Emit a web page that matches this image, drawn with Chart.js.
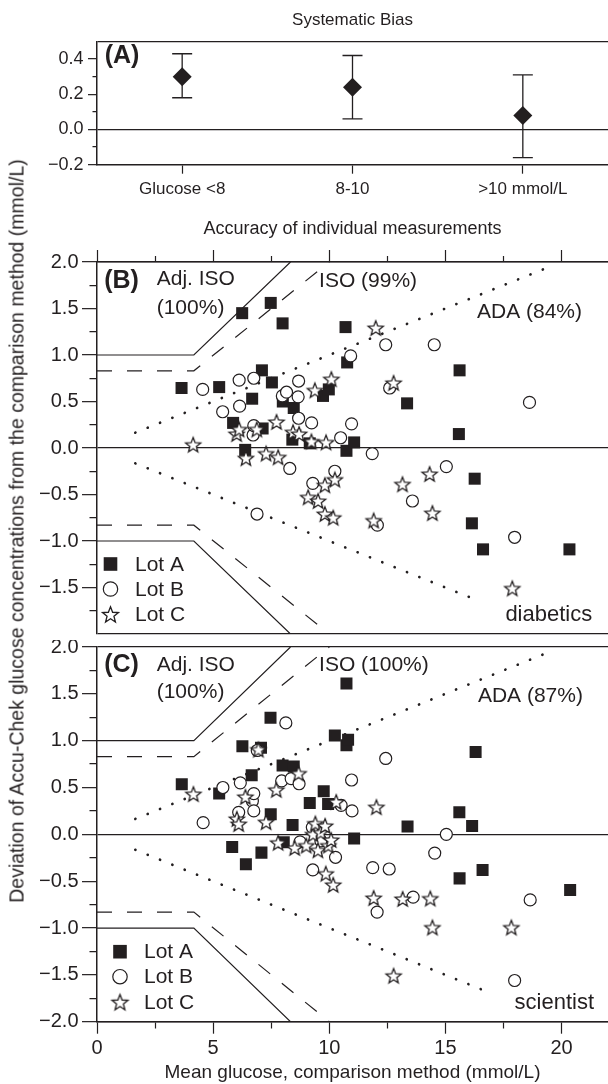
<!DOCTYPE html>
<html lang="en">
<head>
<meta charset="UTF-8">
<title>Systematic bias and accuracy of Accu-Chek measurements</title>
<script src="https://cdn.jsdelivr.net/npm/chart.js"></script>
<style>
  body { margin: 0; background: #fff; }
  .fig { position: relative; width: 608px; height: 1084px; overflow: hidden; font-family: Arial, "Liberation Sans", sans-serif; color: #231f20; }
  .panel { position: absolute; left: 0; }
  #ytitle { position: absolute; left: 17px; top: 531px; white-space: nowrap; font-size: 19.5px; transform: translate(-50%, -50%) rotate(-90deg); z-index: 2; }
</style>
</head>
<body>
<div class="fig">
  <canvas id="biasChart" class="panel" style="top:0" width="608" height="200"></canvas>
  <canvas id="diabChart" class="panel" style="top:200px" width="608" height="440"></canvas>
  <canvas id="sciChart" class="panel" style="top:640px" width="608" height="444"></canvas>
  <div id="ytitle">Deviation of Accu-Chek glucose concentrations from the comparison method (mmol/L)</div>
</div>

<script>
// ---- panel A: systematic bias ----
const biasGroups = ['Glucose <8', '8-10', '>10 mmol/L'];
const biasMean = [0.30, 0.24, 0.08];
const biasUpper = [0.43, 0.42, 0.31];
const biasLower = [0.18, 0.06, -0.16];

// ---- limit lines (vertices) ----
const adjIsoX = [0, 4.17, 8.33];
const adjIsoY = [1.0, 1.0, 2.0];
const isoX = [0, 4.17, 10.0];
const isoY = [0.83, 0.83, 2.0];
const adaUpX = [1.65, 19.6];
const adaUpY = [0.165, 1.96];
const diabAdaLowX = [1.65, 16.5];
const diabAdaLowY = [-0.165, -1.65];
const sciAdaLowX = [1.65, 16.9];
const sciAdaLowY = [-0.165, -1.69];

// ---- panel B: diabetics, [mean glucose, deviation] ----
const diabLotA = [
  [3.64, 0.645], [5.26, 0.655], [5.86, 0.27], [6.25, 1.45], [6.38, -0.02], [6.68, 0.53], [7.10, 0.835],
  [7.13, 0.21], [7.48, 1.56], [7.53, 0.705], [7.99, 1.34], [8.0, 0.50], [8.41, 0.09], [8.47, 0.43],
  [9.16, 0.05], [9.73, 0.56], [9.98, 0.63], [10.70, 1.30], [10.74, -0.03], [10.77, 0.92], [11.07, 0.06],
  [13.35, 0.48], [15.58, 0.15], [15.61, 0.835], [16.14, -0.81], [16.26, -0.33], [16.62, -1.09], [20.34, -1.09]
];
const diabLotB = [
  [4.55, 0.63], [5.41, 0.39], [6.12, 0.73], [6.14, 0.45], [6.72, 0.14], [6.75, 0.24], [6.75, 0.75],
  [6.89, -0.71], [7.98, 0.56], [8.16, 0.60], [8.30, -0.22], [8.66, 0.55], [8.68, 0.32], [8.68, 0.72],
  [9.24, 0.27], [9.29, -0.38], [10.24, -0.25], [10.49, 0.11], [10.92, 0.99], [10.96, 0.26], [11.85, -0.06],
  [12.07, -0.83], [12.43, 1.11], [12.6, 0.645], [13.58, -0.57], [14.52, 1.11], [15.04, -0.20], [17.98, -0.96],
  [18.62, 0.49]
];
const diabLotC = [
  [4.14, 0.035], [6.01, 0.15], [6.12, 0.20], [6.41, -0.11], [6.88, 0.20], [7.28, -0.06], [7.73, 0.28],
  [7.80, -0.10], [8.44, 0.17], [8.70, 0.15], [9.09, -0.53], [9.23, 0.07], [9.38, 0.62], [9.52, -0.57],
  [9.81, -0.40], [9.81, -0.71], [9.86, 0.06], [10.09, 0.74], [10.17, -0.75], [10.24, -0.34], [11.91, -0.78],
  [12.0, 1.29], [12.77, 0.70], [13.15, -0.39], [14.32, -0.28], [14.44, -0.70], [17.88, -1.51]
];

// ---- panel C: scientist ----
const sciLotA = [
  [3.65, 0.535], [5.26, 0.435], [5.82, -0.135], [6.26, 0.94], [6.41, -0.32], [6.66, 0.63], [7.06, 0.925],
  [7.08, -0.195], [7.47, 1.245], [7.48, 0.215], [7.99, 0.735], [8.04, -0.085], [8.42, 0.10], [8.47, 0.725],
  [9.16, 0.335], [9.76, 0.46], [9.95, 0.325], [10.24, 1.055], [10.74, 0.95], [10.74, 1.61], [10.81, 1.01],
  [11.07, -0.045], [13.37, 0.085], [15.60, 0.235], [15.61, -0.47], [16.15, 0.09], [16.30, 0.88], [16.6, -0.38],
  [20.37, -0.595]
];
const sciLotB = [
  [4.57, 0.125], [5.42, 0.50], [6.1, 0.235], [6.17, 0.55], [6.69, 0.355], [6.75, 0.25], [6.75, 0.435],
  [6.90, 0.895], [7.95, 0.57], [8.13, 1.19], [8.36, 0.595], [8.70, 0.54], [8.74, -0.08], [9.27, 0.075],
  [9.29, -0.38], [9.64, -0.07], [10.27, -0.245], [10.51, 0.31], [10.96, 0.58], [10.98, 0.25], [11.87, -0.355],
  [12.06, -0.83], [12.43, 0.81], [12.58, -0.37], [13.61, -0.67], [14.54, -0.20], [15.04, 0.0], [17.98, -1.56],
  [18.65, -0.70]
];
const sciLotC = [
  [4.15, 0.43], [6.02, 0.165], [6.1, 0.11], [6.39, 0.40], [6.95, 0.905], [7.28, 0.13], [7.72, 0.475],
  [7.80, -0.09], [8.51, -0.145], [8.68, 0.65], [9.01, -0.12], [9.3, 0.0], [9.4, 0.115], [9.51, -0.17],
  [9.63, 0.02], [9.82, 0.09], [9.85, -0.42], [9.96, -0.12], [10.08, -0.06], [10.17, -0.54], [10.3, 0.345],
  [11.91, -0.68], [12.03, 0.29], [12.77, -1.51], [13.16, -0.69], [14.35, -0.685], [14.44, -0.995], [17.84, -0.995]
];

const INK = '#231f20';
const CLEAR = 'rgba(0,0,0,0)';
const FONT = 'Arial, "Liberation Sans", Helvetica, sans-serif';
Chart.defaults.font.family = FONT;
Chart.defaults.color = INK;

const toPts = arr => arr.map(([x, y]) => ({x, y}));
const joinXY = (xs, ys) => xs.map((x, i) => ({x, y: ys[i]}));
const mirrorXY = (xs, ys) => xs.map((x, i) => ({x, y: -ys[i]}));
const onStep = (v, s) => Math.abs(v / s - Math.round(v / s)) < 1e-6;
const fmtTick = v => (v < -1e-9 ? '\u2212' : '') + Math.abs(v).toFixed(1);
// short minor ticks: left/top ticks are stroked outer->axis, bottom ones axis->outer
const gapFirst = len => [0, len / 2, len / 2, 0];
const dashFirst = len => [len / 2, len];

function starMark(r) {
  const size = Math.ceil(2 * r + 4);
  const c = document.createElement('canvas');
  c.width = size; c.height = size;
  const g = c.getContext('2d');
  g.translate(size / 2, size / 2 + r * 0.08);
  g.beginPath();
  for (let k = 0; k < 10; k++) {
    const rad = k % 2 === 0 ? r : r * 0.43;
    const a = -Math.PI / 2 + k * Math.PI / 5;
    g.lineTo(rad * Math.cos(a), rad * Math.sin(a));
  }
  g.closePath();
  g.fillStyle = '#fff';
  g.fill();
  g.lineWidth = 1.3;
  g.strokeStyle = INK;
  g.stroke();
  return c;
}
const starPoint = starMark(7.9);
const starLegend = starMark(8.4);

// error bars for panel A
const errorBarPlugin = {
  id: 'errorBars',
  beforeDatasetsDraw(chart) {
    const {ctx, scales: {x, y}} = chart;
    ctx.save();
    ctx.strokeStyle = INK;
    ctx.lineWidth = 1.3;
    biasMean.forEach((m, i) => {
      const px = x.getPixelForValue(i);
      const top = y.getPixelForValue(biasUpper[i]);
      const bot = y.getPixelForValue(biasLower[i]);
      ctx.beginPath();
      ctx.moveTo(px, top); ctx.lineTo(px, bot);
      ctx.moveTo(px - 10, top); ctx.lineTo(px + 10, top);
      ctx.moveTo(px - 10, bot); ctx.lineTo(px + 10, bot);
      ctx.stroke();
    });
    ctx.restore();
  }
};

// text labels placed in data coordinates
function textPlugin(items) {
  return {
    id: 'panelText',
    afterDatasetsDraw(chart) {
      const {ctx, scales: {x, y}} = chart;
      ctx.save();
      ctx.fillStyle = INK;
      ctx.textBaseline = 'middle';
      items.forEach(t => {
        ctx.font = (t.bold ? 'bold ' : '') + t.size + 'px ' + FONT;
        ctx.textAlign = t.align || 'left';
        ctx.fillText(t.text, x.getPixelForValue(t.x), y.getPixelForValue(t.y));
      });
      ctx.restore();
    }
  };
}

// legend box in the lower left corner of B and C
function lotLegend(symDx, textDx) {
  const rows = [['Lot A', 70], ['Lot B', 45], ['Lot C', 19.5]];
  return {
    id: 'lotLegend',
    afterDatasetsDraw(chart) {
      const {ctx, chartArea: area} = chart;
      ctx.save();
      ctx.font = '21px ' + FONT;
      ctx.textBaseline = 'middle';
      ctx.textAlign = 'left';
      rows.forEach(([label, up], i) => {
        const cx = area.left + symDx, cy = area.bottom - up;
        if (i === 0) {
          ctx.fillStyle = INK;
          ctx.fillRect(cx - 6.8, cy - 6.8, 13.6, 13.6);
        } else if (i === 1) {
          ctx.beginPath();
          ctx.arc(cx, cy, 7.2, 0, Math.PI * 2);
          ctx.fillStyle = '#fff'; ctx.fill();
          ctx.lineWidth = 1.2; ctx.strokeStyle = INK; ctx.stroke();
        } else {
          ctx.drawImage(starLegend, cx - starLegend.width / 2, cy - starLegend.height / 2);
        }
        ctx.fillStyle = INK;
        ctx.fillText(label, area.left + textDx, cy + 1);
      });
      ctx.restore();
    }
  };
}

// keep the chart area exactly where the axis sizes put it (no room for half labels)
const noEdgePad = s => { s.paddingTop = 0; s.paddingBottom = 0; };

// Panel A
new Chart(document.getElementById('biasChart'), {
  type: 'line',
  data: {
    labels: biasGroups,
    datasets: [{
      data: biasMean,
      showLine: false,
      pointStyle: 'rectRot',
      pointRadius: 9.5,
      pointBackgroundColor: INK,
      pointBorderColor: INK,
      pointBorderWidth: 0
    }]
  },
  options: {
    responsive: false,
    animation: false,
    events: [],
    layout: { padding: 0, autoPadding: false },
    plugins: {
      legend: { display: false },
      tooltip: { enabled: false },
      title: {
        display: true, text: 'Systematic Bias', fullSize: false, color: INK,
        font: { size: 17, weight: 'normal' }, padding: { top: 10, bottom: 11 }
      }
    },
    scales: {
      x: {
        type: 'category',
        offset: true,
        grid: { offset: false, drawOnChartArea: false, tickLength: 9, tickColor: INK, tickWidth: 1.2 },
        border: { color: INK, width: 1.5 },
        ticks: { font: { size: 17 }, padding: 5, color: INK, maxRotation: 0 },
        afterFit: s => { s.height = 35.3; }
      },
      y: {
        min: -0.2,
        max: 0.5,
        ticks: {
          stepSize: 0.1, autoSkip: false, maxTicksLimit: 50, font: { size: 18 }, padding: 4.5, color: INK,
          callback: v => (onStep(v, 0.2) && v < 0.45) ? fmtTick(v) : ''
        },
        grid: {
          lineWidth: 1.3,
          color: c => (Math.abs(c.tick.value) < 1e-9 || c.tick.value > 0.45) ? INK : CLEAR,
          tickLength: 9,
          tickWidth: 1.2,
          tickColor: c => c.tick.value > 0.45 ? CLEAR : INK,
          tickBorderDash: c => onStep(c.tick.value, 0.2) ? [] : gapFirst(9)
        },
        border: { color: INK, width: 1.5 },
        afterFit: s => { s.width = 97; noEdgePad(s); }
      }
    }
  },
  plugins: [errorBarPlugin, textPlugin([{ text: '(A)', x: -0.455, y: 0.415, size: 25, bold: true }])]
});

function limitLine(data, dash, width, cap) {
  return {
    data, showLine: true, pointRadius: 0, fill: false, tension: 0,
    borderColor: INK, borderWidth: width, borderDash: dash, borderCapStyle: cap || 'butt', order: 5
  };
}

function accuracyChart(id, cfg) {
  const xBottom = cfg.xPos === 'bottom';
  return new Chart(document.getElementById(id), {
    type: 'scatter',
    data: {
      datasets: [
        { data: toPts(cfg.lotC), pointStyle: starPoint, pointRadius: 8, order: 1 },
        { data: toPts(cfg.lotB), pointStyle: 'circle', pointRadius: 6, pointBackgroundColor: '#fff',
          pointBorderColor: INK, pointBorderWidth: 1.2, order: 2 },
        { data: toPts(cfg.lotA), pointStyle: 'rect', pointRadius: 8.5, pointBackgroundColor: INK,
          pointBorderColor: INK, pointBorderWidth: 0, order: 3 },
        limitLine(joinXY(adjIsoX, adjIsoY), [], 1.2),
        limitLine(mirrorXY(adjIsoX, adjIsoY), [], 1.2),
        limitLine(joinXY(isoX, isoY), [15, 15], 1.2),
        limitLine(mirrorXY(isoX, isoY), [15, 15], 1.2),
        limitLine(joinXY(adaUpX, adaUpY), [0.1, 13.2], 2.7, 'round'),
        limitLine(joinXY(cfg.adaLowX, cfg.adaLowY), [0.1, 13.2], 2.7, 'round')
      ]
    },
    options: {
      responsive: false,
      animation: false,
      events: [],
      layout: { padding: cfg.padding, autoPadding: false },
      plugins: { legend: { display: false }, tooltip: { enabled: false }, title: cfg.title },
      scales: {
        x: {
          type: 'linear',
          position: cfg.xPos,
          min: 0,
          max: 22,
          ticks: {
            display: xBottom, stepSize: 2.5, includeBounds: false, autoSkip: false, maxTicksLimit: 50,
            maxRotation: 0, font: { size: 20 }, padding: 2.3, color: INK,
            callback: v => onStep(v, 5) ? String(v) : ''
          },
          grid: {
            drawOnChartArea: false, tickLength: 12, tickColor: INK, tickWidth: 1.2,
            tickBorderDash: c => onStep(c.tick.value, 5) ? [] : (xBottom ? dashFirst(12) : gapFirst(12))
          },
          border: { color: INK, width: 1.5 },
          title: cfg.xTitle,
          afterFit: s => { s.height = cfg.xHeight; }
        },
        y: {
          min: -2,
          max: 2,
          ticks: {
            stepSize: 0.25, autoSkip: false, maxTicksLimit: 50, font: { size: 20 }, padding: 3.5, color: INK,
            callback: v => (onStep(v, 0.5) && !(cfg.hideMin && v < -1.99)) ? fmtTick(v) : ''
          },
          grid: {
            lineWidth: 1.3,
            color: c => onStep(c.tick.value, 2) ? INK : CLEAR,
            tickLength: 15,
            tickWidth: 1.2,
            tickColor: c => (cfg.hideMin && c.tick.value < -1.99) ? CLEAR : INK,
            tickBorderDash: c => onStep(c.tick.value, 0.5) ? [] : gapFirst(15)
          },
          border: { color: INK, width: 1.5 },
          afterFit: s => { s.width = 97; noEdgePad(s); }
        }
      }
    },
    plugins: [textPlugin(cfg.texts), lotLegend(cfg.legendSym, cfg.legendText)]
  });
}

// Panel B
accuracyChart('diabChart', {
  lotA: diabLotA, lotB: diabLotB, lotC: diabLotC,
  adaLowX: diabAdaLowX, adaLowY: diabAdaLowY,
  xPos: 'top', xHeight: 22.2, hideMin: true,
  padding: { top: 0, bottom: 6, left: 0, right: 0 },
  title: {
    display: true, text: 'Accuracy of individual measurements', fullSize: false, color: INK,
    font: { size: 18, weight: 'normal' }, padding: { top: 18.2, bottom: 0 }
  },
  xTitle: { display: false },
  legendSym: 13.5, legendText: 38,
  texts: [
    { text: '(B)', x: 0.31, y: 1.79, size: 25, bold: true },
    { text: 'Adj. ISO', x: 2.57, y: 1.81, size: 21 },
    { text: '(100%)', x: 2.57, y: 1.505, size: 21 },
    { text: 'ISO (99%)', x: 9.56, y: 1.79, size: 21 },
    { text: 'ADA (84%)', x: 16.36, y: 1.46, size: 21 },
    { text: 'diabetics', x: 21.32, y: -1.8, size: 22, align: 'right' }
  ]
});

// Panel C
accuracyChart('sciChart', {
  lotA: sciLotA, lotB: sciLotB, lotC: sciLotC,
  adaLowX: sciAdaLowX, adaLowY: sciAdaLowY,
  xPos: 'bottom', xHeight: 62.3, hideMin: false,
  padding: { top: 7, bottom: 0, left: 0, right: 0 },
  title: { display: false },
  xTitle: {
    display: true, text: 'Mean glucose, comparison method (mmol/L)', color: INK,
    font: { size: 19 }, padding: { top: 0, bottom: 0 }
  },
  legendSym: 23, legendText: 47,
  texts: [
    { text: '(C)', x: 0.31, y: 1.81, size: 25, bold: true },
    { text: 'Adj. ISO', x: 2.57, y: 1.81, size: 21 },
    { text: '(100%)', x: 2.57, y: 1.52, size: 21 },
    { text: 'ISO (100%)', x: 9.56, y: 1.81, size: 21 },
    { text: 'ADA (87%)', x: 16.4, y: 1.47, size: 21 },
    { text: 'scientist', x: 21.4, y: -1.8, size: 22, align: 'right' }
  ]
});
</script>
</body>
</html>
